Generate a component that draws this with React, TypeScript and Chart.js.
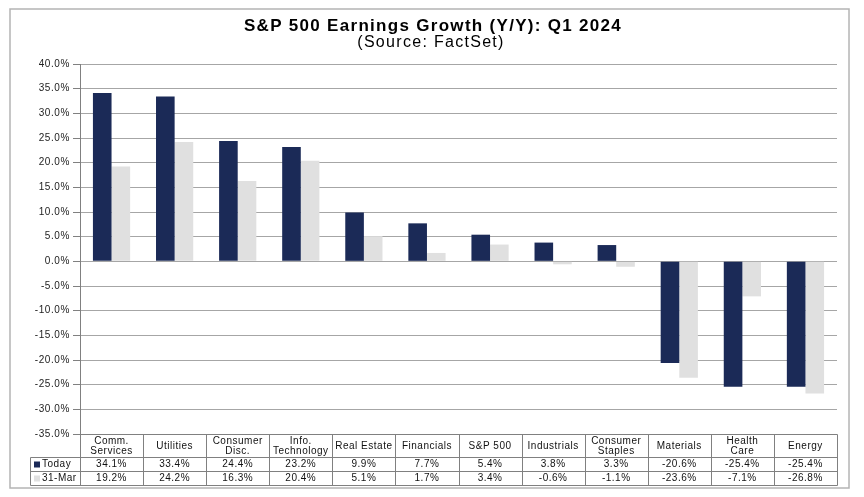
import React, { useEffect, useRef } from "react";
import { Chart, registerables } from "chart.js";

Chart.register(...registerables);

const titleText = "S&P 500 Earnings Growth (Y/Y): Q1 2024";
const subtitleText = "(Source: FactSet)";

const categories: string[][] = [
  ["Comm.", "Services"],
  ["Utilities"],
  ["Consumer", "Disc."],
  ["Info.", "Technology"],
  ["Real Estate"],
  ["Financials"],
  ["S&P 500"],
  ["Industrials"],
  ["Consumer", "Staples"],
  ["Materials"],
  ["Health", "Care"],
  ["Energy"],
];

const seriesNames = ["Today", "31-Mar"];
const todayValues = [34.1, 33.4, 24.4, 23.2, 9.9, 7.7, 5.4, 3.8, 3.3, -20.6, -25.4, -25.4];
const marchValues = [19.2, 24.2, 16.3, 20.4, 5.1, 1.7, 3.4, -0.6, -1.1, -23.6, -7.1, -26.8];
const seriesColors = ["#1b2a57", "#e0e0e0"];

const yMin = -35;
const yMax = 40;
const yStep = 5;

const FONT = '"Liberation Sans", Arial, sans-serif';

const fmt = (v: number) => `${v.toFixed(1)}%`;

const spacingPlugin = {
  id: "spacing",
  beforeDraw(chart: any) {
    (chart.ctx as any).letterSpacing = "0.6px";
  },
};

const decorPlugin = {
  id: "decor",
  afterDraw(chart: any) {
    const { ctx, chartArea } = chart;
    ctx.save();
    // outer border
    ctx.strokeStyle = "#b4b4b4";
    ctx.lineWidth = 1.5;
    ctx.strokeRect(10, 9, 839, 479);

    // title
    ctx.fillStyle = "#000";
    ctx.textAlign = "center";
    ctx.textBaseline = "middle";
    ctx.font = `bold 17px ${FONT}`;
    ctx.letterSpacing = "1.3px";
    ctx.fillText(titleText, 433, 26);
    ctx.font = `16px ${FONT}`;
    ctx.letterSpacing = "1.3px";
    ctx.fillText(subtitleText, 431, 43);

    // data table
    const n = categories.length;
    const left = chartArea.left;
    const right = chartArea.right;
    const colW = (right - left) / n;
    const top = chartArea.bottom;
    const headerBottom = top + 23;
    const row1Bottom = headerBottom + 14;
    const row2Bottom = row1Bottom + 14;
    const legendLeft = 30;

    ctx.strokeStyle = "#808080";
    ctx.lineWidth = 1;
    const line = (x1: number, y1: number, x2: number, y2: number) => {
      ctx.beginPath();
      ctx.moveTo(Math.round(x1) + 0.5, Math.round(y1) + 0.5);
      ctx.lineTo(Math.round(x2) + 0.5, Math.round(y2) + 0.5);
      ctx.stroke();
    };
    line(left, top, right, top);
    line(legendLeft, headerBottom, right, headerBottom);
    line(legendLeft, row1Bottom, right, row1Bottom);
    line(legendLeft, row2Bottom, right, row2Bottom);
    line(legendLeft, headerBottom, legendLeft, row2Bottom);
    for (let i = 0; i <= n; i++) {
      const x = left + i * colW;
      line(x, top, x, row2Bottom);
    }

    ctx.letterSpacing = "0.5px";
    ctx.fillStyle = "#111";
    ctx.font = `10px ${FONT}`;
    ctx.textAlign = "center";
    ctx.textBaseline = "middle";
    const series = [todayValues, marchValues];
    for (let i = 0; i < n; i++) {
      const cx = left + (i + 0.5) * colW;
      const lines = categories[i];
      const lh = 10.5;
      const startY = top + 12 - ((lines.length - 1) * lh) / 2;
      lines.forEach((t, k) => ctx.fillText(t, cx, startY + k * lh));
      ctx.fillText(fmt(series[0][i]), cx, headerBottom + 7.5);
      ctx.fillText(fmt(series[1][i]), cx, row1Bottom + 7.5);
    }
    // legend cells
    ctx.textAlign = "left";
    [headerBottom, row1Bottom].forEach((y0, k) => {
      ctx.fillStyle = seriesColors[k];
      ctx.fillRect(34, y0 + 4.5, 6, 6);
      ctx.fillStyle = "#111";
      ctx.fillText(seriesNames[k], 42, y0 + 7.5);
    });
    ctx.restore();
  },
};

export default function App() {
  const ref = useRef<HTMLCanvasElement | null>(null);
  useEffect(() => {
    if (!ref.current) return;
    const chart = new Chart(ref.current, {
      type: "bar",
      data: {
        labels: categories,
        datasets: [
          {
            label: seriesNames[0],
            data: todayValues,
            backgroundColor: seriesColors[0],
            categoryPercentage: 0.59,
            barPercentage: 1.0,
          },
          {
            label: seriesNames[1],
            data: marchValues,
            backgroundColor: seriesColors[1],
            categoryPercentage: 0.59,
            barPercentage: 1.0,
          },
        ],
      },
      options: {
        responsive: false,
        animation: false,
        devicePixelRatio: 1,
        layout: { padding: { left: 10, right: 27, top: 64, bottom: 63 } },
        plugins: {
          legend: { display: false },
          title: { display: false },
          tooltip: { enabled: false },
        },
        scales: {
          x: { display: false, offset: true },
          y: {
            min: yMin,
            max: yMax,
            afterFit: (scale: any) => {
              scale.width = 70;
            },
            ticks: {
              stepSize: yStep,
              color: "#222",
              font: { family: FONT, size: 10 },
              padding: 3,
              callback: (v: any) => fmt(Number(v)),
            },
            grid: {
              color: "#a6a6a6",
              lineWidth: 1,
              drawTicks: true,
              tickLength: 7,
              tickColor: "#808080",
            },
            border: { display: true, color: "#808080" },
          },
        },
      },
      plugins: [spacingPlugin, decorPlugin],
    });
    return () => chart.destroy();
  }, []);
  return (
    <div style={{ position: "absolute", left: 0, top: 0, width: 864, height: 497, background: "#fff" }}>
      <canvas ref={ref} width={864} height={497} />
    </div>
  );
}
